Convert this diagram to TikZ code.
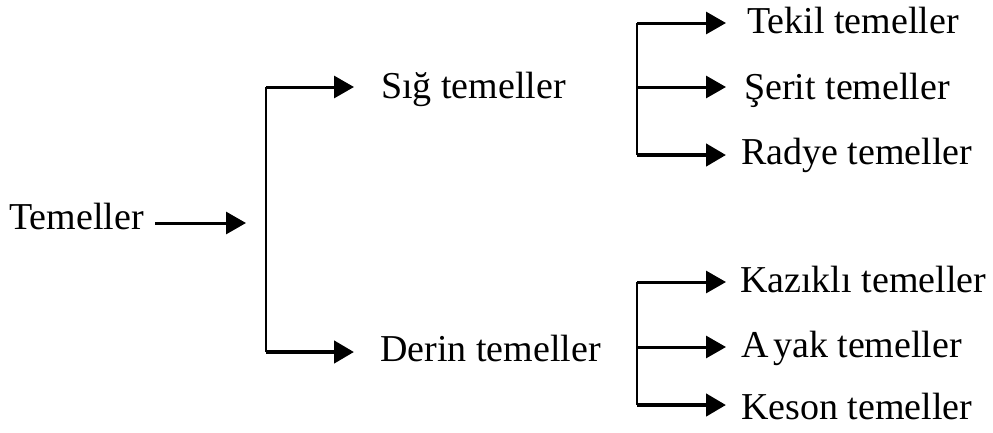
\documentclass[tikz,border=0pt]{standalone}
\usepackage{fontspec}
\setmainfont{Liberation Serif}
\usetikzlibrary{arrows.meta}
\begin{document}
\begin{tikzpicture}[x=1pt,y=-1pt,
  lbl/.style={anchor=base west,inner sep=0pt,font=\fontsize{38}{44}\selectfont},
  ln/.style={line width=2.6pt},
  arr/.style={line width=3pt,-{Triangle[length=20pt,width=22pt]}},
  tarr/.style={line width=4.5pt,-{Triangle[length=20pt,width=22pt]}}]
\useasboundingbox (0,0) rectangle (993,432);
% nodes
\node[lbl] (T) at (9,229) {Temeller};
\node[lbl] (S) at (381,98) {Sığ temeller};
\node[lbl] (D) at (380,361) {Derin temeller};
\node[lbl] (Tk) at (747,33) {Tekil temeller};
\node[lbl] (Se) at (744,99) {Şerit temeller};
\node[lbl] (R) at (741,164) {Radye temeller};
\node[lbl] (K) at (740,292) {Kazıklı temeller};
\node[lbl] (A) at (741,357) {A\hspace{0.12em}yak temeller};
\node[lbl] (Ks) at (741,419) {Keson temeller};
% coordinates
\coordinate (t0) at (155,223);
\coordinate (t1) at (246,223);
\coordinate (a) at (266,87);
\coordinate (b) at (266,352);
\coordinate (la) at (354,87);
\coordinate (lb) at (354,352);
\coordinate (r1) at (637,23);
\coordinate (r2) at (637,87);
\coordinate (r3) at (637,155);
\coordinate (s1) at (637,282);
\coordinate (s2) at (637,347);
\coordinate (s3) at (637,405);
\coordinate (tipx) at (726,0);
% connectors
\draw[arr] (t0) -- (t1);
\draw[ln] (a) -- (b);
\draw[arr] (a) -- (la);
\draw[tarr] (b) -- (lb);
\draw[ln] (r1) -- (r3);
\draw[arr] (r1) -- (r1 -| tipx);
\draw[arr] (r2) -- (r2 -| tipx);
\draw[tarr] (r3) -- (r3 -| tipx);
\draw[ln] (s1) -- (s3);
\draw[arr] (s1) -- (s1 -| tipx);
\draw[arr] (s2) -- (s2 -| tipx);
\draw[tarr] (s3) -- (s3 -| tipx);
\end{tikzpicture}
\end{document}
